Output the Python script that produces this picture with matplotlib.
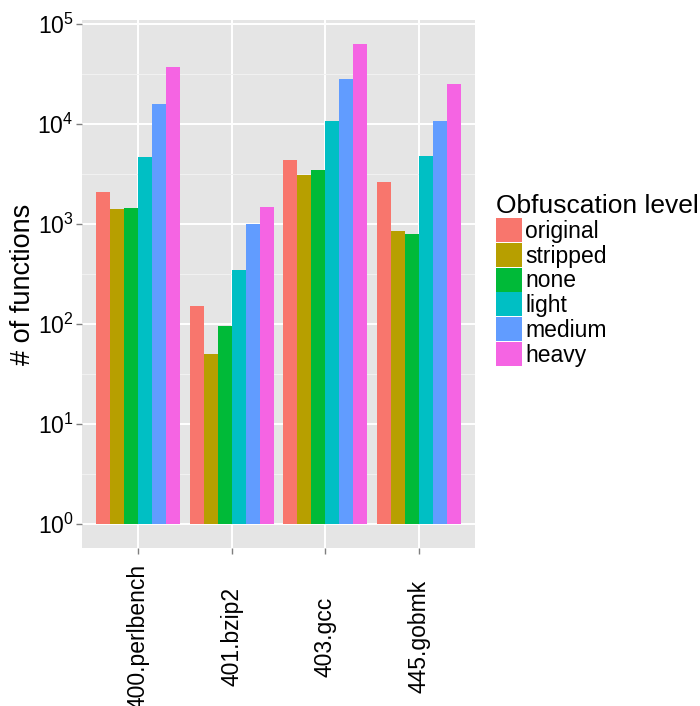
import numpy as np
import matplotlib
matplotlib.use("Agg")
import matplotlib.pyplot as plt
from matplotlib.ticker import FixedLocator, LogFormatterSciNotation, NullFormatter

plt.rcParams["font.family"] = ["Liberation Sans", "DejaVu Sans"]
plt.rcParams["mathtext.fontset"] = "custom"
plt.rcParams["mathtext.rm"] = "Liberation Sans"
plt.rcParams["mathtext.it"] = "Liberation Sans:italic"

# ── data ─────────────────────────────────────────────────────────────────────
benchmarks = ["400.perlbench", "401.bzip2", "403.gcc", "445.gobmk"]
levels     = ["original", "stripped", "none", "light", "medium", "heavy"]
colours    = ["#F8766D", "#B79F00", "#00BA38", "#00BFC4", "#619CFF", "#F564E3"]

original = [2090, 151, 4370, 2630]
stripped = [1410, 50, 3090, 850]
none     = [1450, 95, 3470, 795]
light    = [4680, 347, 10700, 4790]
medium   = [15850, 1000, 28200, 10700]
heavy    = [37150, 1480, 63100, 25100]
series   = [original, stripped, none, light, medium, heavy]

# ── figure ───────────────────────────────────────────────────────────────────
W, H = 700, 706
fig = plt.figure(figsize=(W / 100, H / 100), dpi=100)
ax = fig.add_axes([82 / W, 1 - 548 / H, (475 - 82) / W, (548 - 20) / H])
ax.set_facecolor("#E5E5E5")
for s in ax.spines.values():
    s.set_visible(False)

x = np.arange(len(benchmarks))
bw = 0.9 / len(levels)
for i, (lvl, vals, col) in enumerate(zip(levels, series, colours)):
    vals = np.array(vals, dtype=float)
    ax.bar(x + (i - 2.5) * bw, vals - 1, bottom=1, width=bw, color=col,
           label=lvl, linewidth=0, zorder=3)

ax.set_yscale("log")
ax.set_ylim(10 ** -0.24, 10 ** 5.04)
ax.set_xlim(-0.6, 3.6)

ax.yaxis.set_major_locator(FixedLocator([10.0 ** k for k in range(6)]))
ax.yaxis.set_major_formatter(LogFormatterSciNotation())
ax.yaxis.set_minor_locator(FixedLocator([10.0 ** (k + 0.5) for k in range(-1, 6)]))
ax.yaxis.set_minor_formatter(NullFormatter())
ax.set_xticks(x)
ax.set_xticklabels(benchmarks, rotation=90, va="center", ha="center")

ax.grid(True, which="major", color="white", linewidth=1.4, zorder=0)
ax.grid(True, which="minor", axis="y", color="#F2F2F2", linewidth=0.7, zorder=0)
ax.set_axisbelow(True)

ax.tick_params(axis="y", which="major", length=4, width=1, color="#7F7F7F",
               labelsize=16.5, pad=2, labelcolor="black")
ax.tick_params(axis="y", which="minor", length=0)
ax.tick_params(axis="x", length=4, width=1, color="#7F7F7F",
               labelsize=16.5, pad=60, labelcolor="black")

ax.set_ylabel("# of functions", fontsize=19.5, labelpad=1)

leg = ax.legend(title="Obfuscation level", loc="upper left",
                bbox_to_anchor=(496 / W, 1 - 194 / H),
                bbox_transform=fig.transFigure, frameon=False,
                fontsize=16.5, title_fontsize=19, handlelength=1.13,
                handleheight=1.24, labelspacing=0.0, handletextpad=0.15,
                borderpad=0, borderaxespad=0, alignment="left")

fig.savefig("out.png", dpi=100)
